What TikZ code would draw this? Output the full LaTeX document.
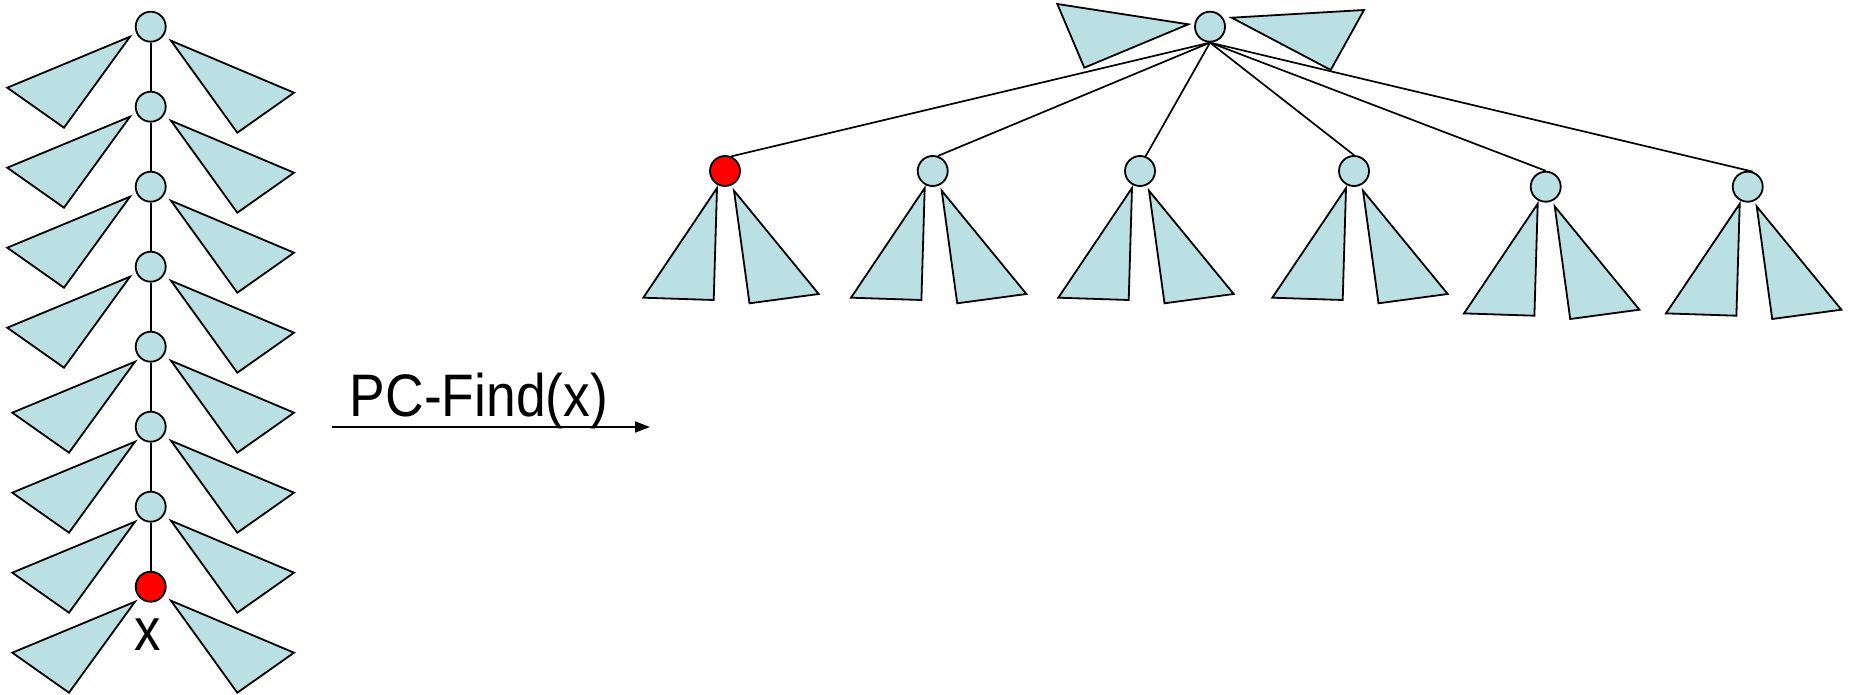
\documentclass[tikz,border=0pt]{standalone}
\usepackage{fontspec}
\setmainfont{Liberation Sans}
\usetikzlibrary{arrows.meta}
\definecolor{tri}{RGB}{187,224,227}
\begin{document}
\begin{tikzpicture}[x=1pt,y=-1pt,line width=1.8pt,
  tristyle/.style={draw=black,fill=tri,line join=miter},
  vtx/.style={circle,draw=black,fill=tri,minimum size=30pt,inner sep=0pt},
  redvtx/.style={vtx,fill=red},
  edge/.style={draw=black,line width=1.7pt},
  lbl/.style={font=\fontsize{60}{72}\selectfont,inner sep=0pt,anchor=base},
  ltri/.pic={\path[tristyle] (-20.7,10) -- (-143.4,61) -- (-86.7,101) -- cycle;},
  rtri/.pic={\path[tristyle] (20.3,14) -- (143.3,66) -- (86.6,106) -- cycle;},
  subtree/.pic={\path[tristyle] (-8,17) -- (-81.7,126.7) -- (-11.3,129) -- cycle;
                \path[tristyle] (9,19.7) -- (93.7,123) -- (24.5,132.3) -- cycle;}]
\useasboundingbox (0,0) rectangle (1849,695);
% left chain
\foreach \k in {0,...,7}{
  \pgfmathsetmacro\cy{26.7+80*\k}
  \pgfmathsetmacro\o{\k>3?5:0}
  \pic at (150.7+\o,\cy+\o) {ltri};
  \pic at (150.7,\cy) {rtri};
}
\foreach \k in {0,...,6} \node[vtx] (l\k) at (150.7,26.7+80*\k) {};
\node[redvtx] (l7) at (150.7,586.7) {};
\foreach \k [evaluate=\k as \n using int(\k+1)] in {0,...,6} \draw[edge] (l\k) -- (l\n);
\node[lbl] (xlab) at (147.5,650.7) {\scalebox{0.88}[1]{x}};
% arrow
\coordinate (a0) at (332,427);
\coordinate (a1) at (650,427);
\draw[edge,-{Triangle[length=15pt,width=11pt]}] (a0) -- (a1);
\node[lbl] (pc) at (479,416.7) {\scalebox{0.89}[1]{PC-Find(x)}};
% right tree
\path[tristyle] (1057.3,4) -- (1188.3,24.3) -- (1084.3,67.7) -- cycle;
\path[tristyle] (1231.7,17.7) -- (1364,10) -- (1330.7,70) -- cycle;
\pic at (725,171) {subtree};
\pic at (932.7,171) {subtree};
\pic at (1140,171) {subtree};
\pic at (1354,171) {subtree};
\pic at (1545.7,186.7) {subtree};
\pic at (1747.7,186.7) {subtree};
\node[vtx] (root) at (1210,26.7) {};
\node[redvtx] (c1) at (725,171) {};
\node[vtx] (c2) at (932.7,171) {};
\node[vtx] (c3) at (1140,171) {};
\node[vtx] (c4) at (1354,171) {};
\node[vtx] (c5) at (1545.7,186.7) {};
\node[vtx] (c6) at (1747.7,186.7) {};
\draw[edge] (root.south) -- (c1.67);
\draw[edge] (root.south) -- (c2.71);
\draw[edge] (root.south) -- (c3.69);
\draw[edge] (root.south) -- (c4.90);
\draw[edge] (root.south) -- (c5.90);
\draw[edge] (root.south) -- (c6.72);
\end{tikzpicture}
\end{document}
